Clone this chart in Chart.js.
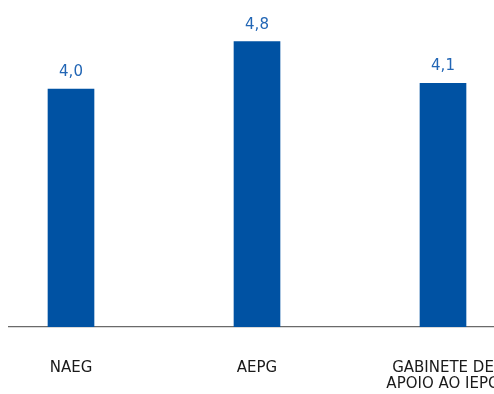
<!DOCTYPE html>
<html>
<head>
<meta charset="utf-8">
<script src="https://cdn.jsdelivr.net/npm/chart.js@4"></script>
<style>
  html, body { margin: 0; padding: 0; background: #fff; overflow: hidden; }
  .wrap { position: absolute; left: 8px; top: 0; width: 486px; height: 394px; overflow: hidden; }
  .wrap canvas { position: absolute; left: -30px; top: 0; }
</style>
</head>
<body>
<div class="wrap">
  <canvas id="chart" width="558" height="394"></canvas>
</div>
<script>
const categories = ['NAEG', 'AEPG', ['GABINETE DE', 'APOIO AO IEPG']];
const values = [4.0, 4.8, 4.1];

const barColor = '#0052a3';
const valueColor = '#2266b5';

// value above each bar, with comma decimals
const valueLabels = {
  id: 'valueLabels',
  afterDatasetsDraw(chart) {
    const ctx = chart.ctx;
    const meta = chart.getDatasetMeta(0);
    ctx.save();
    ctx.font = '15px "DejaVu Sans"';
    ctx.fillStyle = valueColor;
    ctx.textAlign = 'center';
    ctx.textBaseline = 'alphabetic';
    meta.data.forEach((bar, i) => {
      ctx.fillText(values[i].toFixed(1).replace('.', ','), bar.x, bar.y - 13);
    });
    ctx.restore();
  }
};

new Chart(document.getElementById('chart'), {
  type: 'bar',
  data: {
    labels: categories,
    datasets: [{
      data: values,
      backgroundColor: barColor,
      barThickness: 46
    }]
  },
  options: {
    responsive: false,
    animation: false,
    layout: { padding: 0 },
    plugins: {
      legend: { display: false },
      tooltip: { enabled: false }
    },
    scales: {
      x: {
        grid: { display: false },
        border: { display: true, color: '#6a6a6a', width: 1.2 },
        ticks: {
          color: '#1a1a1a',
          maxRotation: 0,
          autoSkip: false,
          padding: 25,
          font: { family: 'DejaVu Sans', size: 15, lineHeight: 1.07 }
        },
        afterFit(scale) { scale.height = 67; }
      },
      y: {
        display: false,
        min: 0,
        max: 5.5
      }
    }
  },
  plugins: [valueLabels]
});
</script>
</body>
</html>
